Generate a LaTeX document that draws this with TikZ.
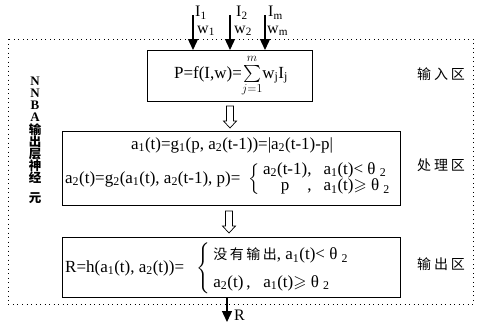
\documentclass[tikz,border=0pt]{standalone}
\usepackage{amsmath,amssymb}
\usepackage{fontspec}
\setmainfont{Liberation Serif}
\newfontfamily\cjk{Noto Sans CJK SC}
\usetikzlibrary{arrows.meta}
\newcommand\sbs[1]{\textsubscript{#1}}
\begin{document}
\begin{tikzpicture}[x=1pt,y=-1pt,
  every node/.style={font=\fontsize{17}{17}\selectfont, inner sep=0pt},
  box/.style={draw, line width=1.2pt, anchor=north west},
  outer/.style={line width=0.9pt, dash pattern=on 0.9pt off 3.6pt},
  inarrow/.style={line width=1.3pt, -{Triangle[length=11pt,width=10pt]}},
  hollow/.style={line width=0.7pt},
  smalllab/.style={font=\fontsize{16}{16}\selectfont},
  cjklab/.style={font=\fontsize{14}{16}\selectfont\cjk}]
\useasboundingbox (0,0) rectangle (481,325);
% outer dotted frame
\draw[outer] (8,39) rectangle (473,304);
% boxes
\node[box, minimum width=165pt, minimum height=51pt] (b1) at (147,50) {};
\node[box, minimum width=338pt, minimum height=74pt] (b2) at (62,131) {};
\node[box, minimum width=338pt, minimum height=60pt] (b3) at (62,237) {};
% box 1 text
\node (t1) at (231,76) {P=f(I,w)=$\sum\limits_{j=1}^{m}$w\sbs{j}I\sbs{j}};
% box 2 text
\node (t2a) at (232,145) {a\sbs{1}(t)=g\sbs{1}(p, a\sbs{2}(t-1))=|a\sbs{2}(t-1)-p|};
\node[anchor=west] (t2b) at (65,179) {a\sbs{2}(t)=g\sbs{2}(a\sbs{1}(t), a\sbs{2}(t-1), p)=\ \ $\left\{\renewcommand\arraystretch{0.95}\begin{tabular}{@{\,}c@{}c@{\hspace{12pt}}l@{}}a\sbs{2}(t-1) & , & a\sbs{1}(t)<\ θ\ \sbs{2}\\ p & , & a\sbs{1}(t)$\geqslant$\ θ\ \sbs{2}\end{tabular}\right.$};
% box 3 text
\node[anchor=west] (t3) at (65,268) {R=h(a\sbs{1}(t), a\sbs{2}(t))=\ \ \ $\left\{\renewcommand\arraystretch{1.6}\begin{tabular}{@{\,}l@{}}{\cjk\fontsize{14}{16}\selectfont 没\hspace{2.5pt}有\hspace{2.5pt}输\hspace{2.5pt}出}, a\sbs{1}(t)<\ θ\ \sbs{2}\\ a\sbs{2}(t)\,,\ \ \ a\sbs{1}(t)$\geqslant$\ θ\ \sbs{2}\end{tabular}\right.$};
% input arrows
\coordinate (i1) at (193,15);
\coordinate (i2) at (230,15);
\coordinate (i3) at (265,15);
\draw[inarrow] (i1) -- (i1 |- b1.north);
\draw[inarrow] (i2) -- (i2 |- b1.north);
\draw[inarrow] (i3) -- (i3 |- b1.north);
\node[smalllab, anchor=west] (lI1) at (195,13) {I\sbs{1}};
\node[smalllab, anchor=west] (lw1) at (197,31) {w\sbs{1}};
\node[smalllab, anchor=west] (lI2) at (236,13) {I\sbs{2}};
\node[smalllab, anchor=west] (lw2) at (234,31) {w\sbs{2}};
\node[smalllab, anchor=west] (lI3) at (268,13) {I\sbs{m}};
\node[smalllab, anchor=west] (lw3) at (267,31) {w\sbs{m}};
% hollow arrows
\coordinate (h1) at (230,106);
\draw[hollow] (h1) ++(-3.5,0) -- ++(7,0) -- ++(0,15) -- ++(3,0) -- ++(-6.5,7) -- ++(-6.5,-7) -- ++(3,0) -- cycle;
\coordinate (h2) at (229,211);
\draw[hollow] (h2) ++(-3.5,0) -- ++(7,0) -- ++(0,15) -- ++(3,0) -- ++(-6.5,7) -- ++(-6.5,-7) -- ++(3,0) -- cycle;
% output arrow
\coordinate (o) at (227,322);
\draw[inarrow] (o |- b3.south) -- (o);
\node[smalllab, anchor=west] (lR) at (234,315) {R};
% left vertical label
\node[align=center, font=\fontsize{13}{12.2}\selectfont\bfseries] (vl) at (35,140) {N\\N\\B\\A\\{\cjk\fontsize{12.5}{12.2}\selectfont 输}\\{\cjk\fontsize{12.5}{12.2}\selectfont 出}\\{\cjk\fontsize{12.5}{12.2}\selectfont 层}\\{\cjk\fontsize{12.5}{12.2}\selectfont 神}\\{\cjk\fontsize{12.5}{12.2}\selectfont 经}\\[7pt]{\cjk\fontsize{12.5}{12.2}\selectfont 元}};
% right labels
\node[cjklab] (r1) at (441,74) {输\hspace{3pt}入\hspace{3pt}区};
\node[cjklab] (r2) at (441,165) {处\hspace{3pt}理\hspace{3pt}区};
\node[cjklab] (r3) at (441,264) {输\hspace{3pt}出\hspace{3pt}区};
\end{tikzpicture}
\end{document}
